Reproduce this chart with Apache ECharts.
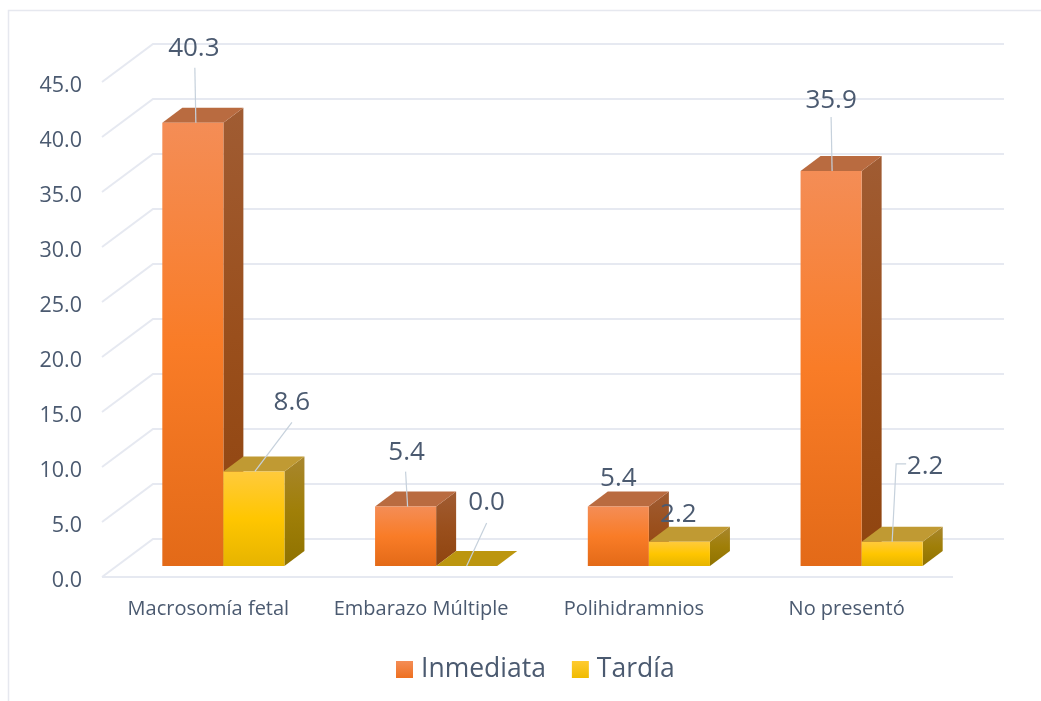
<!DOCTYPE html>
<html>
<head>
<meta charset="utf-8">
<style>html,body{margin:0;padding:0;background:#fff}#c{width:1041px;height:701px}</style>
<script src="https://cdn.jsdelivr.net/npm/echarts@6/dist/echarts.min.js"></script>
</head>
<body>
<div id="c"></div>
<script>
const categories = ['Macrosomía fetal', 'Embarazo Múltiple', 'Polihidramnios', 'No presentó'];
const inmediata = [40.3, 5.4, 5.4, 35.9];
const tardia = [8.6, 0.0, 2.2, 2.2];
const axisTicks = [0, 5, 10, 15, 20, 25, 30, 35, 40, 45];

// label centre and leader points, relative to the top-centre of each bar's front face
const inmediataLabels = [
  { at: [1, -74], leader: [[2, -55], [3, 0]] },
  { at: [1, -54], leader: [[0, -35], [2, 0]] },
  { at: [0, -28], leader: null },
  { at: [0, -71], leader: [[0, -54], [1, 0]] }
];
const tardiaLabels = [
  { at: [38, -69], leader: [[38, -49], [1, 0]] },
  { at: [20, -63], leader: [[20, -43], [0, 0]] },
  { at: [-1, -27], leader: null },
  { at: [33, -75], leader: [[14, -78], [4, -78], [0, 0]] }
];

const G = echarts.graphic.LinearGradient;
const vgrad = stops => new G(0, 0, 0, 1, stops.map(s => ({ offset: s[0], color: s[1] })));
const inkColor = '#4b5a70', gridColor = '#e6e9f1', leaderColor = '#c6d1dc';

const inmediataStyle = {
  front: () => vgrad([[0, '#f48d56'], [0.5, '#f97c27'], [1, '#e36a18']]),
  top: '#b96b40',
  side: () => vgrad([[0, '#a05c33'], [0.5, '#9a4f1c'], [1, '#8f440f']]),
  legend: vgrad([[0, '#f48d56'], [1, '#ee7020']])
};
const tardiaStyle = {
  front: () => vgrad([[0, '#ffca3c'], [0.5, '#ffc600'], [1, '#e6b400']]),
  top: '#c09a33',
  side: () => vgrad([[0, '#a8862e'], [0.5, '#a07f08'], [1, '#8f7200']]),
  legend: vgrad([[0, '#ffcb30'], [1, '#f0bb00']])
};

// oblique projection used for the fake 3-D look
const BAR_RATIO = 0.287;            // bar width as share of a category band
const PLANE = [15, -11];            // shift from the front axis plane to the bars' front face
const DEPTH = [20, -15];            // bar depth
const WALL = [51, -38];             // front plane to back wall

function barRenderer(side, style, labels) {
  return function (params, api) {
    const i = api.value(0), v = api.value(1);
    const base = api.coord([i, 0]), tip = api.coord([i, v]);
    const w = api.size([1, 0])[0] * BAR_RATIO;
    const x0 = base[0] + PLANE[0] + (side < 0 ? -w : 0), x1 = x0 + w;
    const y0 = base[1] + PLANE[1], y1 = tip[1] + PLANE[1];
    const dx = DEPTH[0], dy = DEPTH[1];
    const poly = (points, fill, z2) => ({ type: 'polygon', shape: { points }, style: { fill }, z2 });
    const children = [];
    if (y0 - y1 > 0.5) {
      children.push(poly([[x1, y1], [x1 + dx, y1 + dy], [x1 + dx, y0 + dy], [x1, y0]], style.side(), 1));
      children.push(poly([[x0, y1], [x1, y1], [x1, y0], [x0, y0]], style.front(), 3));
    }
    children.push(poly([[x0, y1], [x1, y1], [x1 + dx, y1 + dy], [x0 + dx, y1 + dy]], y0 - y1 > 0.5 ? style.top : '#bc960f', 2));
    const cx = (x0 + x1) / 2;
    const place = labels[params.dataIndex];
    if (place.leader) {
      children.push({
        type: 'polyline',
        shape: { points: place.leader.map(p => [cx + p[0], y1 + p[1]]) },
        style: { stroke: leaderColor, lineWidth: 1.2, fill: null },
        z2: 20
      });
    }
    children.push({
      type: 'text',
      style: {
        text: v.toFixed(1), x: cx + place.at[0], y: y1 + place.at[1],
        align: 'center', verticalAlign: 'middle',
        fill: inkColor, font: '26px "Open Sans", "Noto Sans", sans-serif'
      },
      z2: 30
    });
    return { type: 'group', children };
  };
}

function wallRenderer(params, api) {
  const v = api.value(0);
  const cs = params.coordSys;
  const y = api.coord([0, v])[1];
  const xL = cs.x, xR = cs.x + cs.width;
  const children = [{
    type: 'polyline',
    shape: { points: [[xL, y], [xL + WALL[0], y + WALL[1]], [xR + WALL[0], y + WALL[1]]] },
    style: { stroke: gridColor, lineWidth: 2, fill: null }
  }];
  if (v === 0) {
    children.push({
      type: 'line', shape: { x1: xL, y1: y, x2: xR, y2: y },
      style: { stroke: gridColor, lineWidth: 2 }
    });
  }
  return { type: 'group', children };
}

const chart = echarts.init(document.getElementById('c'), null, { renderer: 'canvas' });
chart.setOption({
  animation: false,
  backgroundColor: '#fff',
  textStyle: { fontFamily: '"Open Sans", "Noto Sans", sans-serif' },
  graphic: [{
    type: 'polyline', silent: true,
    shape: { points: [[8.5, 701], [8.5, 10.5], [1041, 10.5]] },
    style: { stroke: '#e6e8ef', lineWidth: 1.5, fill: null }
  }],
  grid: { left: 102, right: 88, top: 82, bottom: 124 },
  legend: {
    data: ['Inmediata', 'Tardía'],
    left: 391, top: 651,
    icon: 'rect', itemWidth: 17, itemHeight: 17, itemGap: 26,
    textStyle: { color: inkColor, fontSize: 26.5, fontFamily: '"Open Sans", "Noto Sans", sans-serif', padding: [0, 0, 0, 3] }
  },
  xAxis: {
    type: 'category', data: categories,
    axisLine: { show: false }, axisTick: { show: false }, splitLine: { show: false },
    axisLabel: { color: inkColor, fontSize: 20, margin: 22, interval: 0, hideOverlap: false }
  },
  yAxis: {
    type: 'value', min: 0, max: 45, interval: 5,
    axisLine: { show: false }, axisTick: { show: false }, splitLine: { show: false },
    axisLabel: { color: inkColor, fontSize: 21.5, margin: 20, verticalAlign: 'top', lineHeight: 8, formatter: v => v.toFixed(1) }
  },
  series: [
    {
      type: 'custom', name: 'walls', z: 1, silent: true,
      encode: { y: 0 },
      data: axisTicks.map(v => [v]),
      renderItem: wallRenderer
    },
    {
      type: 'custom', name: 'Inmediata', z: 3,
      itemStyle: { color: inmediataStyle.legend },
      encode: { x: 0, y: 1 },
      data: inmediata.map((v, i) => [i, v]),
      renderItem: barRenderer(-1, inmediataStyle, inmediataLabels)
    },
    {
      type: 'custom', name: 'Tardía', z: 4,
      itemStyle: { color: tardiaStyle.legend },
      encode: { x: 0, y: 1 },
      data: tardia.map((v, i) => [i, v]),
      renderItem: barRenderer(1, tardiaStyle, tardiaLabels)
    }
  ]
});
</script>
</body>
</html>
